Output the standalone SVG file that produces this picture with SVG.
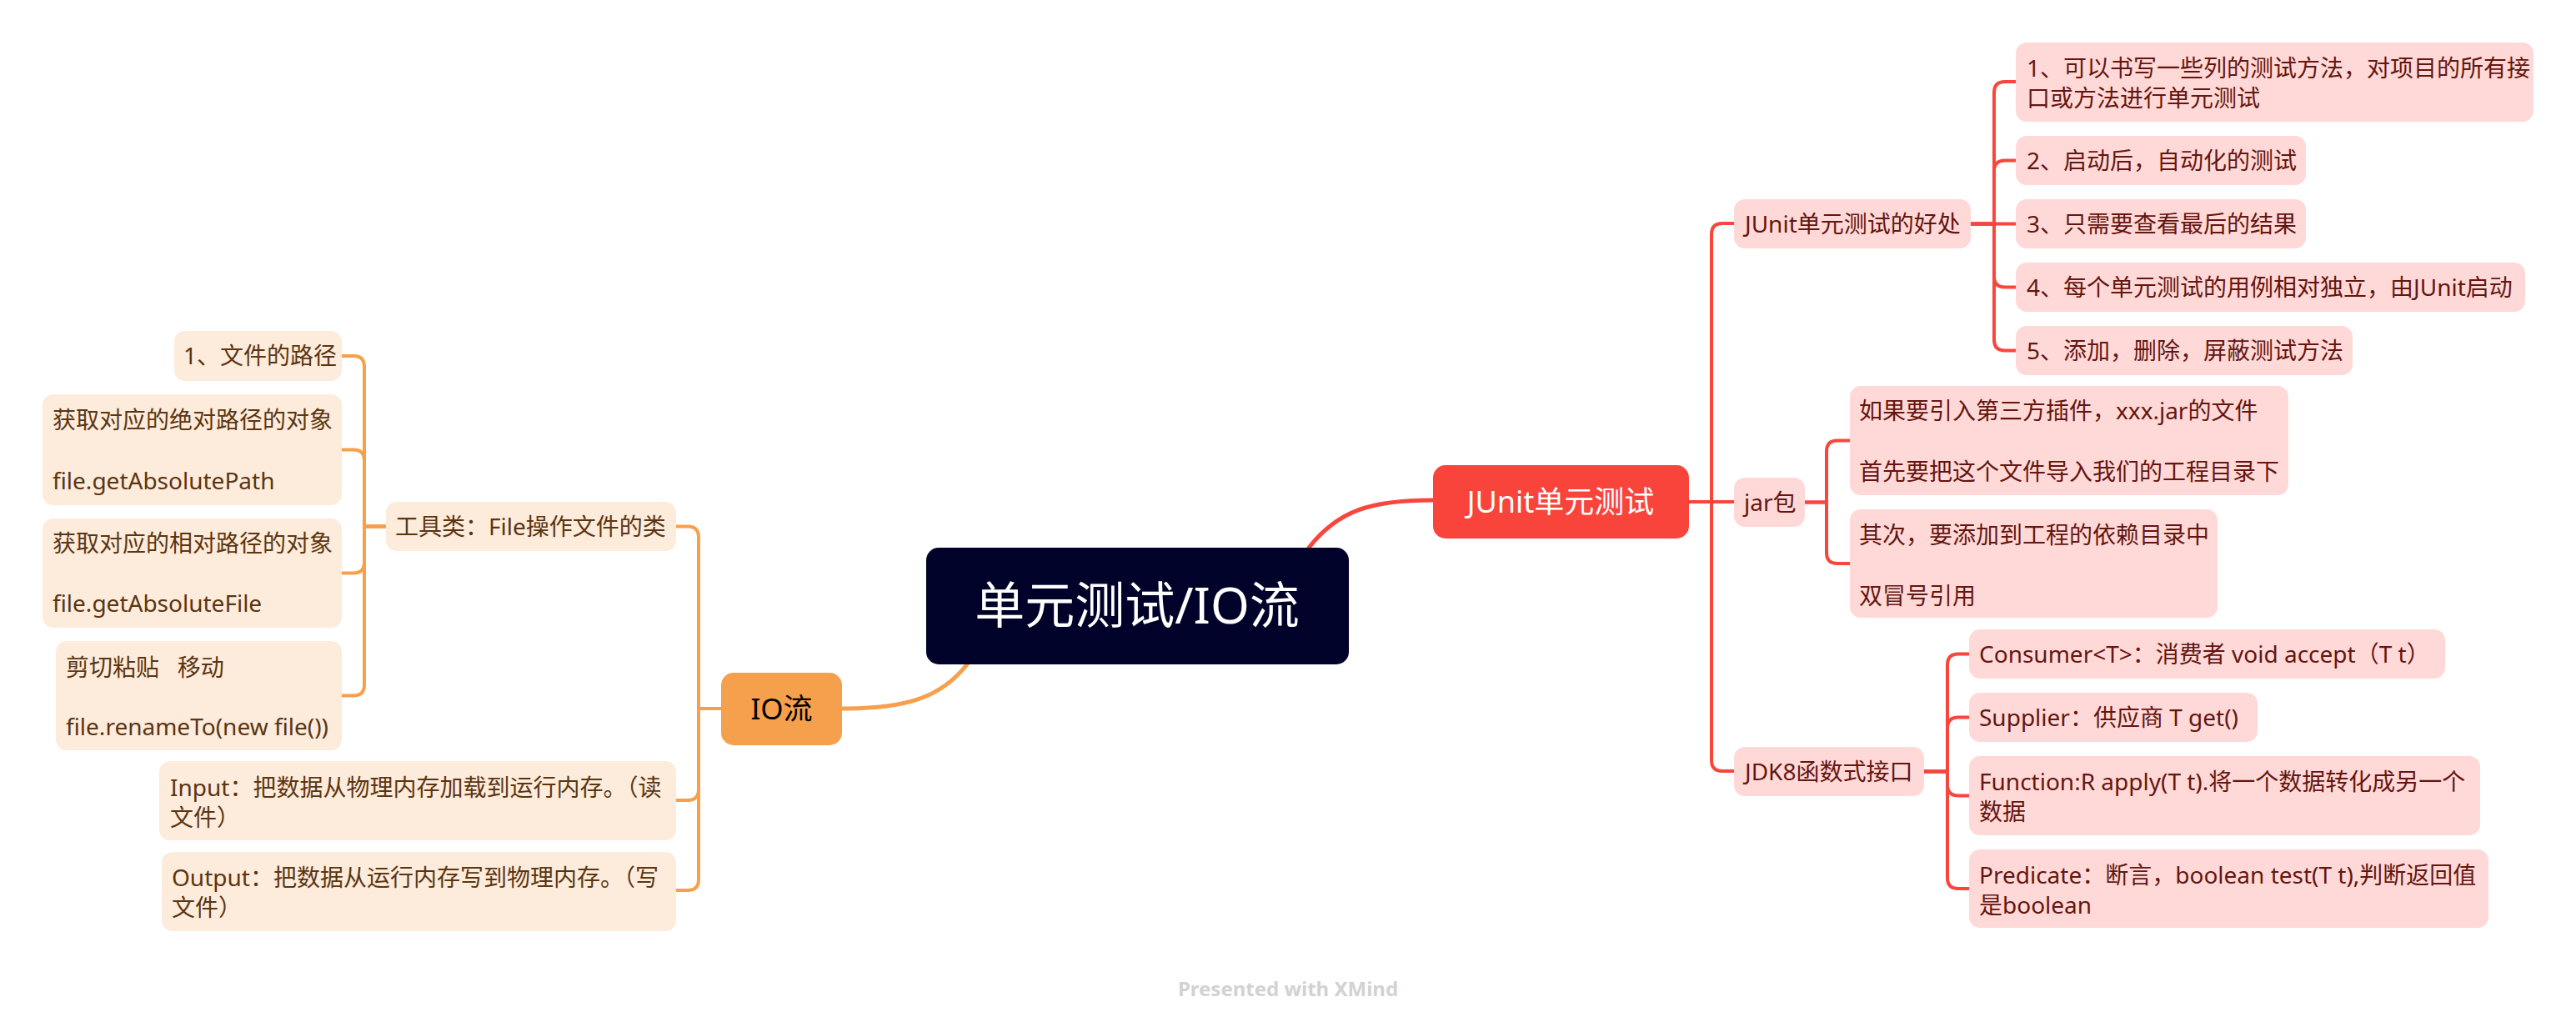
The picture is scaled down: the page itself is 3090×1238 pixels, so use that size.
<svg xmlns="http://www.w3.org/2000/svg" width="3090" height="1238" viewBox="0 0 3090 1238">
<style>
text{font-family:"Noto Sans","Noto Sans CJK SC",sans-serif;}
.r3{fill:#FFD9D7;}
.o3{fill:#FDEBDC;}
.tr{font-size:28px;fill:#651510;}
.to{font-size:28px;fill:#5B3510;}
.lr{fill:none;stroke:#F9463D;stroke-width:4;stroke-linecap:round;}
.lo{fill:none;stroke:#F7A04B;stroke-width:4;stroke-linecap:round;}
.thick{stroke-width:5;}
</style>
<rect width="3090" height="1238" fill="#FFFFFF"/>

<g id="connectors">
<path class="lr thick" d="M1570,657 C1605,612 1645,600 1719,600"/>
<path class="lo thick" d="M1160,797 C1128,838 1085,850 1010,850"/>
<!-- JUnit main -> level 2 -->
<path class="lr" d="M2026,602 H2080"/>
<path class="lr" d="M2026,602 H2053 V281 Q2053,268 2066,268 H2080"/>
<path class="lr" d="M2026,602 H2053 V912 Q2053,925 2066,925 H2080"/>
<!-- JUnit好处 -> children -->
<path class="lr" d="M2364,268.5 H2418"/>
<path class="lr" d="M2364,268.5 H2392 V111 Q2392,98 2405,98 H2418"/>
<path class="lr" d="M2364,268.5 H2392 V205 Q2392,192.5 2405,192.5 H2418"/>
<path class="lr" d="M2364,268.5 H2392 V331.5 Q2392,344.5 2405,344.5 H2418"/>
<path class="lr" d="M2364,268.5 H2392 V407.5 Q2392,420.5 2405,420.5 H2418"/>
<!-- jar包 -> children -->
<path class="lr" d="M2165,602.5 H2191 V541.5 Q2191,528.5 2204,528.5 H2219"/>
<path class="lr" d="M2165,602.5 H2191 V663 Q2191,676 2204,676 H2219"/>
<!-- JDK8 -> children -->
<path class="lr" d="M2308,925.5 H2336 V797.5 Q2336,784.5 2349,784.5 H2362"/>
<path class="lr" d="M2308,925.5 H2336 V873.5 Q2336,860.5 2349,860.5 H2362"/>
<path class="lr" d="M2308,925.5 H2336 V941.5 Q2336,954.5 2349,954.5 H2362"/>
<path class="lr" d="M2308,925.5 H2336 V1053 Q2336,1066 2349,1066 H2362"/>
<!-- IO流 -> children -->
<path class="lo" d="M865,850 H838 V644.5 Q838,631.5 825,631.5 H811"/>
<path class="lo" d="M865,850 H838 V947 Q838,960 825,960 H811"/>
<path class="lo" d="M865,850 H838 V1055 Q838,1068 825,1068 H811"/>
<!-- 工具类 -> children -->
<path class="lo" d="M463,631.5 H437 V440 Q437,427 424,427 H410"/>
<path class="lo" d="M463,631.5 H437 V552.5 Q437,539.5 424,539.5 H410"/>
<path class="lo" d="M463,631.5 H437 V674.5 Q437,687.5 424,687.5 H410"/>
<path class="lo" d="M463,631.5 H437 V821.5 Q437,834.5 424,834.5 H410"/>
</g>

<g id="root">
<rect x="1111" y="657" width="507" height="140" rx="15" fill="#000229"/>
<text x="1364" y="748" font-size="60" fill="#FFFFFF" text-anchor="middle">单元测试/IO流</text>
</g>

<g id="junit">
<rect x="1719" y="558" width="307" height="88" rx="15" fill="#F9443C"/>
<text x="1872" y="615" font-size="36" fill="#FFFFFF" text-anchor="middle">JUnit单元测试</text>
</g>

<g id="io">
<rect x="865" y="807" width="145" height="87" rx="15" fill="#F5A04C"/>
<text x="937.5" y="863" font-size="35" fill="#000000" text-anchor="middle">IO流</text>
</g>

<g id="junit-benefits">
<rect class="r3" x="2080" y="239" width="284" height="59" rx="13"/>
<text class="tr" x="2093" y="278.5">JUnit单元测试的好处</text>
</g>
<g id="b1">
<rect class="r3" x="2418" y="51" width="621" height="95" rx="13"/>
<text class="tr" x="2431" y="92">1、可以书写一些列的测试方法，对项目的所有接</text>
<text class="tr" x="2431" y="128">口或方法进行单元测试</text>
</g>
<g id="b2">
<rect class="r3" x="2418" y="163" width="348" height="59" rx="13"/>
<text class="tr" x="2431" y="202.5">2、启动后，自动化的测试</text>
</g>
<g id="b3">
<rect class="r3" x="2418" y="239" width="348" height="59" rx="13"/>
<text class="tr" x="2431" y="278.5">3、只需要查看最后的结果</text>
</g>
<g id="b4">
<rect class="r3" x="2418" y="315" width="611" height="59" rx="13"/>
<text class="tr" x="2431" y="354.5">4、每个单元测试的用例相对独立，由JUnit启动</text>
</g>
<g id="b5">
<rect class="r3" x="2418" y="391" width="404" height="59" rx="13"/>
<text class="tr" x="2431" y="430.5">5、添加，删除，屏蔽测试方法</text>
</g>

<g id="jar">
<rect class="r3" x="2080" y="573" width="85" height="59" rx="13"/>
<text class="tr" x="2092" y="612.5">jar包</text>
</g>
<g id="jar1">
<rect class="r3" x="2219" y="463" width="526" height="131" rx="13"/>
<text class="tr" x="2230" y="503">如果要引入第三方插件，xxx.jar的文件</text>
<text class="tr" x="2230" y="576">首先要把这个文件导入我们的工程目录下</text>
</g>
<g id="jar2">
<rect class="r3" x="2219" y="611" width="441" height="130" rx="13"/>
<text class="tr" x="2230" y="652">其次，要添加到工程的依赖目录中</text>
<text class="tr" x="2230" y="725">双冒号引用</text>
</g>

<g id="jdk8">
<rect class="r3" x="2080" y="896" width="228" height="59" rx="13"/>
<text class="tr" x="2093" y="935.5">JDK8函数式接口</text>
</g>
<g id="consumer">
<rect class="r3" x="2362" y="755" width="571" height="59" rx="13"/>
<text class="tr" x="2374" y="794.5">Consumer&lt;T&gt;：消费者 void accept（T t）</text>
</g>
<g id="supplier">
<rect class="r3" x="2362" y="831" width="346" height="59" rx="13"/>
<text class="tr" x="2374" y="870.5">Supplier：供应商 T get()</text>
</g>
<g id="function">
<rect class="r3" x="2362" y="907" width="613" height="95" rx="13"/>
<text class="tr" x="2374" y="948">Function:R apply(T t).将一个数据转化成另一个</text>
<text class="tr" x="2374" y="984">数据</text>
</g>
<g id="predicate">
<rect class="r3" x="2362" y="1019" width="623" height="94" rx="13"/>
<text class="tr" x="2374" y="1060">Predicate：断言，boolean test(T t),判断返回值</text>
<text class="tr" x="2374" y="1096">是boolean</text>
</g>

<g id="tool">
<rect class="o3" x="463" y="602" width="348" height="59" rx="13"/>
<text class="to" x="474" y="641.5">工具类：File操作文件的类</text>
</g>
<g id="path1">
<rect class="o3" x="209" y="397" width="201" height="60" rx="13"/>
<text class="to" x="220" y="437">1、文件的路径</text>
</g>
<g id="abs">
<rect class="o3" x="51" y="473" width="359" height="133" rx="13"/>
<text class="to" x="63" y="514">获取对应的绝对路径的对象</text>
<text class="to" x="63" y="587">file.getAbsolutePath</text>
</g>
<g id="rel">
<rect class="o3" x="51" y="622" width="359" height="131" rx="13"/>
<text class="to" x="63" y="662">获取对应的相对路径的对象</text>
<text class="to" x="63" y="734">file.getAbsoluteFile</text>
</g>
<g id="move">
<rect class="o3" x="67" y="769" width="343" height="131" rx="13"/>
<text class="to" x="79" y="811" xml:space="preserve">剪切粘贴   移动</text>
<text class="to" x="79" y="882">file.renameTo(new file())</text>
</g>
<g id="input">
<rect class="o3" x="191" y="913" width="620" height="95" rx="13"/>
<text class="to" x="204" y="955">Input：把数据从物理内存加载到运行内存。（读</text>
<text class="to" x="204" y="991">文件）</text>
</g>
<g id="output">
<rect class="o3" x="194" y="1022" width="617" height="95" rx="13"/>
<text class="to" x="206" y="1063">Output：把数据从运行内存写到物理内存。（写</text>
<text class="to" x="206" y="1099">文件）</text>
</g>

<text x="1545" y="1195" font-size="24" font-weight="bold" fill="#D2D2D2" text-anchor="middle">Presented with XMind</text>
</svg>
